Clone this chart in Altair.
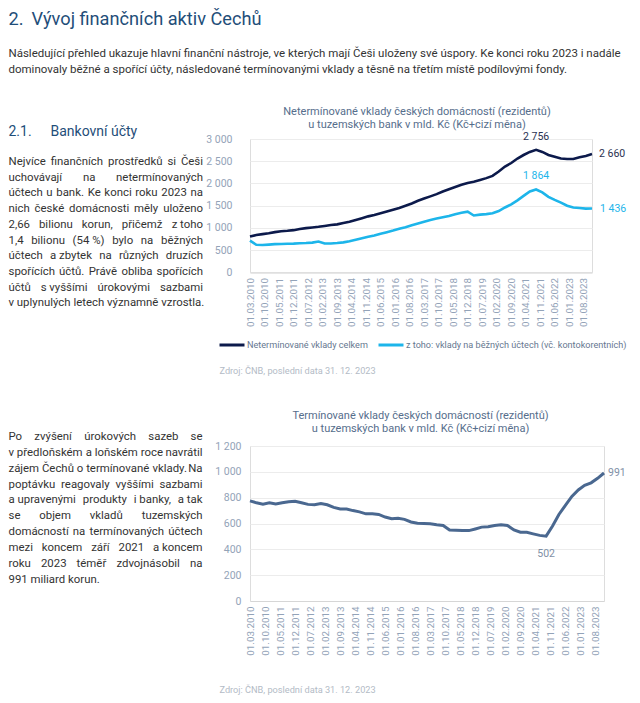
import unicodedata
import altair as alt
import pandas as pd

FONT = "Roboto"

# ---------------- data ----------------
tick_labels = ["01.03.2010", "01.10.2010", "01.05.2011", "01.12.2011", "01.07.2012",
               "01.02.2013", "01.09.2013", "01.04.2014", "01.11.2014", "01.06.2015",
               "01.01.2016", "01.08.2016", "01.03.2017", "01.10.2017", "01.05.2018",
               "01.12.2018", "01.07.2019", "01.02.2020", "01.09.2020", "01.04.2021",
               "01.11.2021", "01.06.2022", "01.01.2023", "01.08.2023"]

quarters = pd.date_range("2010-03-01", "2023-12-01", freq="3MS")

series_names = ["Netermínované vklady celkem",
                "z toho: vklady na běžných účtech (vč. kontokorentních)"]

total = [805, 840, 860, 880, 905, 925, 935, 950, 975, 995, 1010, 1025, 1045, 1065,
         1080, 1110, 1140, 1180, 1220, 1260, 1290, 1330, 1370, 1410, 1450, 1500,
         1550, 1610, 1660, 1710, 1760, 1820, 1870, 1920, 1970, 2010, 2040, 2080,
         2120, 2170, 2270, 2380, 2460, 2560, 2640, 2710, 2756, 2710, 2640, 2600,
         2560, 2550, 2550, 2590, 2620, 2660]

current = [715, 620, 615, 625, 635, 640, 645, 648, 655, 660, 670, 695, 650, 650,
           660, 675, 700, 735, 770, 800, 830, 870, 905, 940, 980, 1015, 1060, 1100,
           1140, 1180, 1210, 1240, 1270, 1310, 1340, 1365, 1280, 1300, 1310, 1330,
           1380, 1460, 1530, 1620, 1720, 1820, 1864, 1800, 1700, 1630, 1570, 1500,
           1460, 1450, 1435, 1436]

term = [775, 760, 750, 760, 752, 760, 768, 772, 760, 748, 745, 755, 745, 725, 712,
        712, 700, 690, 675, 676, 670, 650, 637, 640, 632, 612, 602, 600, 598, 590,
        585, 550, 547, 545, 545, 558, 572, 575, 585, 590, 585, 550, 532, 532, 520,
        508, 502, 580, 670, 740, 810, 860, 895, 915, 950, 991]

y1_ticks = [0, 500, 1000, 1500, 2000, 2500, 3000]
y2_ticks = [0, 200, 400, 600, 800, 1000, 1200]

header_title = ["2.", "Vývoj finančních aktiv Čechů"]
header_par = ["Následující přehled ukazuje hlavní finanční nástroje, ve kterých mají Češi uloženy své úspory. Ke konci roku 2023 i nadále",
              "dominovaly běžné a spořící účty, následované termínovanými vklady a těsně na třetím místě podílovými fondy."]
section = ["2.1.", "Bankovní účty"]
par1 = ["Nejvíce finančních prostředků si Češi",
        "uchovávají na netermínovaných",
        "účtech u bank. Ke konci roku 2023 na",
        "nich české domácnosti měly uloženo",
        "2,66 bilionu korun, přičemž z\u00a0toho",
        "1,4 bilionu (54\u00a0%) bylo na běžných",
        "účtech a\u00a0zbytek na různých druzích",
        "spořících účtů. Právě obliba spořících",
        "účtů s\u00a0vyššími úrokovými sazbami",
        "v\u00a0uplynulých letech významně vzrostla."]
par2 = ["Po zvýšení úrokových sazeb se",
        "v\u00a0předloňském a\u00a0loňském roce navrátil",
        "zájem Čechů o\u00a0termínované vklady. Na",
        "poptávku reagovaly vyššími sazbami",
        "a\u00a0upravenými produkty i\u00a0banky, a\u00a0tak",
        "se objem vkladů tuzemských",
        "domácností na termínovaných účtech",
        "mezi koncem září 2021 a\u00a0koncem",
        "roku 2023 téměř zdvojnásobil na",
        "991 miliard korun."]
title1 = ["Netermínované vklady českých domácností (rezidentů)",
          "u tuzemských bank v mld. Kč (Kč+cizí měna)"]
title2 = ["Termínované vklady českých domácností (rezidentů)",
          "u tuzemských bank v mld. Kč (Kč+cizí měna)"]
source = "Zdroj: ČNB, poslední data 31. 12. 2023"

# ---------------- styles ----------------
NAVY = "#0c1a4b"
CYAN = "#1db5ea"
STEEL = "#4a6890"
HEAD_BLUE = "#1f4e79"
BODY = "#333333"
TITLE_C = "#566e8c"
AXIS_C = "#93a3b8"
SRC_C = "#b3bbc6"
GRID_C = "#ececec"

O1 = (249.5, 138.3)   # page position of chart 1 plot origin
O2 = (249.5, 443.3)   # page position of chart 2 plot origin

# approximate Roboto advance widths (em) for text layout
WID = {' ': 0.248, 'a': 0.544, 'b': 0.561, 'c': 0.523, 'd': 0.564, 'e': 0.530, 'f': 0.347,
       'g': 0.561, 'h': 0.551, 'i': 0.243, 'j': 0.239, 'k': 0.507, 'l': 0.243, 'm': 0.876,
       'n': 0.552, 'o': 0.570, 'p': 0.561, 'q': 0.568, 'r': 0.338, 's': 0.516, 't': 0.327,
       'u': 0.551, 'v': 0.484, 'w': 0.751, 'x': 0.496, 'y': 0.473, 'z': 0.496,
       'A': 0.652, 'B': 0.623, 'C': 0.651, 'D': 0.656, 'E': 0.568, 'F': 0.553, 'G': 0.681,
       'H': 0.713, 'I': 0.272, 'J': 0.552, 'K': 0.627, 'L': 0.538, 'M': 0.873, 'N': 0.713,
       'O': 0.688, 'P': 0.631, 'R': 0.616, 'S': 0.593, 'T': 0.597, 'U': 0.649, 'V': 0.636,
       'Z': 0.599, '.': 0.263, ',': 0.196, '(': 0.342, ')': 0.348, '%': 0.732, ':': 0.242,
       '+': 0.566, '-': 0.276}
for _d in "0123456789":
    WID[_d] = 0.561


def em(s):
    t = 0.0
    for ch in s:
        if ch == "\u00a0":
            ch = " "
        b = unicodedata.normalize("NFD", ch)[0]
        t += WID.get(b, 0.55)
    return t


def justify(lines, x0, x1, yb0, dy, fs):
    left, center, right = [], [], []
    for i, line in enumerate(lines):
        y = yb0 + i * dy
        words = line.split(" ")
        if i == len(lines) - 1 or len(words) < 2:
            left.append((x0, y, line))
            continue
        ws = [em(w) * fs for w in words]
        gap = max((x1 - x0 - sum(ws)) / (len(words) - 1), em(" ") * fs)
        x = x0
        for j, (w, wd) in enumerate(zip(words, ws)):
            if j == 0:
                left.append((x0, y, w))
            elif j == len(words) - 1:
                right.append((x1, y, w))
            else:
                center.append((x + wd / 2, y, w))
            x += wd + gap
    return left, center, right


def text_layer(rows, origin, size, color, align="left", weight="normal"):
    df = pd.DataFrame(rows, columns=["px", "py", "txt"])
    df["px"] = df["px"] - origin[0]
    df["py"] = df["py"] - origin[1]
    return alt.Chart(df).mark_text(align=align, baseline="alphabetic", fontSize=size,
                                   color=color, font=FONT, fontWeight=weight).encode(
        x=alt.X("px:Q", scale=None, axis=None),
        y=alt.Y("py:Q", scale=None, axis=None),
        text="txt:N")


def anchor(px, py, origin):
    x, y = px - origin[0], py - origin[1]
    return alt.Chart(pd.DataFrame({"a": [0]})).mark_rule(strokeOpacity=0, strokeWidth=0.1).encode(
        x=alt.value(x), x2=alt.value(x + 0.5), y=alt.value(y), y2=alt.value(y + 0.5))


def fmt(v):
    return f"{v:,}".replace(",", " ")


def to_dt(s):
    d, m, y = s.split(".")
    return alt.DateTime(year=int(y), month=int(m), date=int(d))


tick_dt = [to_dt(s) for s in tick_labels]
x_dom = [alt.DateTime(year=2010, month=3, date=1), alt.DateTime(year=2023, month=12, date=1)]
YEXPR = "replace(format(datum.value, ','), ',', ' ')"

xaxis = alt.Axis(values=tick_dt, format="%d.%m.%Y", labelAngle=270, labelPadding=5,
                 ticks=False, grid=False, domainColor="#d6d6d6", labelColor=AXIS_C,
                 labelFontSize=9.8, labelFlush=False, labelOverlap=False, labelBound=False,
                 title=None)

# ---------------- chart 1 ----------------
df1 = pd.DataFrame({"date": list(quarters) * 2,
                    "value": total + current,
                    "series": [series_names[0]] * len(total) + [series_names[1]] * len(current)})

X1 = alt.X("date:T", scale=alt.Scale(domain=x_dom, nice=False), axis=xaxis)
Y1 = alt.Y("value:Q", scale=alt.Scale(domain=[0, 3000], nice=False),
           axis=alt.Axis(values=y1_ticks, labelExpr=YEXPR, domain=False, ticks=False,
                         labelPadding=18, labelColor=AXIS_C, labelFontSize=10.5,
                         gridColor=GRID_C, title=None))

lines1 = alt.Chart(df1).mark_line(strokeWidth=2.6).encode(
    x=X1, y=Y1,
    color=alt.Color("series:N", scale=alt.Scale(domain=series_names, range=[NAVY, CYAN]),
                    legend=alt.Legend(orient="none", legendX=-32, legendY=192,
                                      direction="horizontal", title=None, symbolType="stroke",
                                      symbolStrokeWidth=3, symbolSize=625, labelFontSize=9.1,
                                      labelColor="#667790", labelLimit=400, columnPadding=4,
                                      labelOffset=1)))


def point_df(values, idx):
    return pd.DataFrame({"date": [quarters[idx]], "value": [values[idx]],
                         "label": [fmt(values[idx])]})


i_tot_max = total.index(max(total))
i_cur_max = current.index(max(current))
i_term_min = term.index(min(term))
last = len(total) - 1

ann_tot_peak = alt.Chart(point_df(total, i_tot_max)).mark_text(
    dy=-13, fontSize=10.5, color="#2b3352", align="center").encode(x=X1, y=Y1, text="label:N")
ann_tot_end = alt.Chart(point_df(total, last)).mark_text(
    dx=7, fontSize=10.5, color="#2b3352", align="left", baseline="middle").encode(x=X1, y=Y1, text="label:N")
ann_cur_peak = alt.Chart(point_df(current, i_cur_max)).mark_text(
    dy=-14, fontSize=10.5, color=CYAN, align="center").encode(x=X1, y=Y1, text="label:N")
ann_cur_end = alt.Chart(point_df(current, last)).mark_text(
    dx=8, fontSize=10.5, color=CYAN, align="left", baseline="middle").encode(x=X1, y=Y1, text="label:N")

data1 = alt.layer(lines1, ann_tot_peak, ann_tot_end, ann_cur_peak, ann_cur_end)

hp_fs = 614 / em(header_par[0])
p_fs = 11.4
l1, c1, r1 = justify(par1, 8, 202.5, 164.3, 15.72, p_fs)

texts1 = [
    anchor(8, 8, O1),
    anchor(8, 392, O1),
    text_layer([(8, 24, header_title[0]), (31, 24, header_title[1])], O1, 18.2, HEAD_BLUE),
    text_layer([(8, 55.8, header_par[0]), (8, 71.8, header_par[1])], O1, hp_fs, BODY),
    text_layer([(8, 135, section[0]), (50, 135, section[1])], O1, 14, HEAD_BLUE),
    text_layer(l1, O1, p_fs, BODY, "left"),
    text_layer(c1, O1, p_fs, BODY, "center"),
    text_layer(r1, O1, p_fs, BODY, "right"),
    text_layer([(416.5, 114, title1[0]), (416.5, 127.5, title1[1])], O1, 11, TITLE_C, "center"),
    text_layer([(219, 373.5, source)], O1, 9.2, SRC_C),
]

chart1 = alt.layer(data1, *texts1).resolve_scale(
    x="independent", y="independent").properties(width=342, height=133.4)

# ---------------- chart 2 ----------------
df2 = pd.DataFrame({"date": list(quarters), "value": term})
X2 = alt.X("date:T", scale=alt.Scale(domain=x_dom, nice=False), axis=xaxis)
Y2 = alt.Y("value:Q", scale=alt.Scale(domain=[0, 1200], nice=False),
           axis=alt.Axis(values=y2_ticks, labelExpr=YEXPR, domain=False, ticks=False,
                         labelPadding=9, labelColor=AXIS_C, labelFontSize=10.5,
                         gridColor=GRID_C, title=None))

line2 = alt.Chart(df2).mark_line(strokeWidth=3, color=STEEL).encode(x=X2, y=Y2)
ann_min = alt.Chart(point_df(term, i_term_min)).mark_text(
    dy=18, fontSize=10.5, color="#7f8fa6", align="center").encode(x=X2, y=Y2, text="label:N")
ann_end2 = alt.Chart(point_df(term, last)).mark_text(
    dx=4, fontSize=10.5, color="#7f8fa6", align="left", baseline="middle").encode(x=X2, y=Y2, text="label:N")
data2 = alt.layer(line2, ann_min, ann_end2)

l2, c2, r2 = justify(par2, 8, 202, 437.3, 15.85, p_fs)
texts2 = [
    anchor(8, 392, O2),
    text_layer(l2, O2, p_fs, BODY, "left"),
    text_layer(c2, O2, p_fs, BODY, "center"),
    text_layer(r2, O2, p_fs, BODY, "right"),
    text_layer([(420, 416.7, title2[0]), (420, 429.2, title2[1])], O2, 11, TITLE_C, "center"),
    text_layer([(219, 690.5, source)], O2, 9.2, SRC_C),
]

chart2 = alt.layer(data2, *texts2).resolve_scale(
    x="independent", y="independent").properties(width=354, height=155)

chart = alt.vconcat(chart1, chart2, spacing=0).properties(padding=0).configure_view(
    stroke=None).configure(font=FONT)

chart.save("out.html", embed_options={"renderer": "svg", "actions": False})
